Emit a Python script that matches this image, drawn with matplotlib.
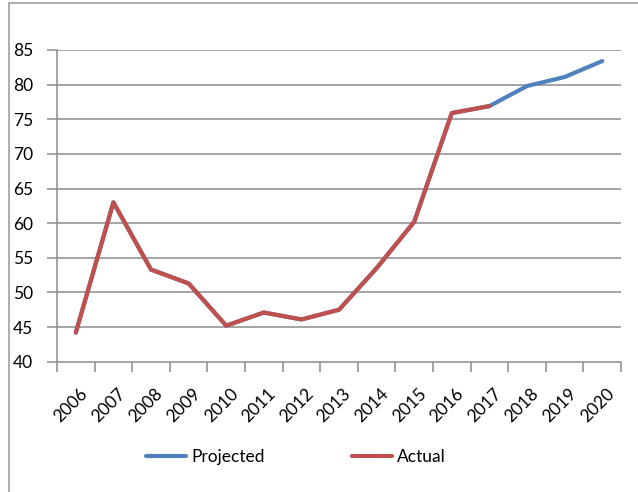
import numpy as np
import matplotlib
matplotlib.use('Agg')
import matplotlib.pyplot as plt
from matplotlib.patches import Rectangle

years = ['2006', '2007', '2008', '2009', '2010', '2011', '2012', '2013',
         '2014', '2015', '2016', '2017', '2018', '2019', '2020']
projected = [44.2, 63.0, 53.3, 51.3, 45.2, 47.1, 46.1, 47.5,
             53.5, 60.2, 75.9, 76.9, 79.8, 81.1, 83.4]
actual = [44.2, 63.0, 53.3, 51.3, 45.2, 47.1, 46.1, 47.5,
          53.5, 60.2, 75.9, 76.9]

plt.rcParams['font.family'] = ['Lato', 'DejaVu Sans']

fig = plt.figure(figsize=(6.38, 4.92), dpi=100)
ax = fig.add_axes([57/638, 1-361.7/492, (621-57)/638, (361.7-50)/492])

# chart area border
fig.patches.append(Rectangle((9/638, -0.1), 1.2, 1.1-3/492, transform=fig.transFigure,
                             fill=False, edgecolor='#a0a0a0', linewidth=1.2))

x = np.arange(len(years))
ax.plot(x, projected, color='#4F81BD', lw=3.0, solid_capstyle='round',
        solid_joinstyle='round', label='Projected', zorder=3)
ax.plot(x[:len(actual)], actual, color='#C0504D', lw=3.0, solid_capstyle='round',
        solid_joinstyle='round', label='Actual', zorder=4)

ax.set_xlim(-0.5, len(years)-0.5)
ax.set_ylim(40, 85)
ax.set_yticks(np.arange(40, 86, 5))
ax.set_yticklabels([str(v) for v in range(40, 86, 5)], fontsize=12.5)
for v in range(45, 86, 5):
    ax.axhline(v, color='#8c8c8c', lw=1.1, zorder=1)

ax.set_xticks(np.arange(-0.5, len(years), 1.0))
ax.set_xticklabels([])
ax.set_xticks(x + 0.1, minor=True)
ax.set_xticklabels(years, minor=True, rotation=45, ha='right',
                   rotation_mode='anchor', fontsize=12.5)
ax.tick_params(axis='x', which='minor', length=0, pad=17)
ax.tick_params(axis='both', which='major', length=7, color='#8c8c8c', width=1.1)
ax.tick_params(axis='y', pad=10)

for s in ['top', 'right']:
    ax.spines[s].set_visible(False)
for s in ['left', 'bottom']:
    ax.spines[s].set_color('#8c8c8c')
    ax.spines[s].set_linewidth(1.1)

fig.legend(loc='center', bbox_to_anchor=(296/638, 1-457/492), ncol=2, frameon=False,
           fontsize=12.5, handlelength=2.3, handletextpad=0.3, columnspacing=5.0)

plt.savefig('out.png', dpi=100)
